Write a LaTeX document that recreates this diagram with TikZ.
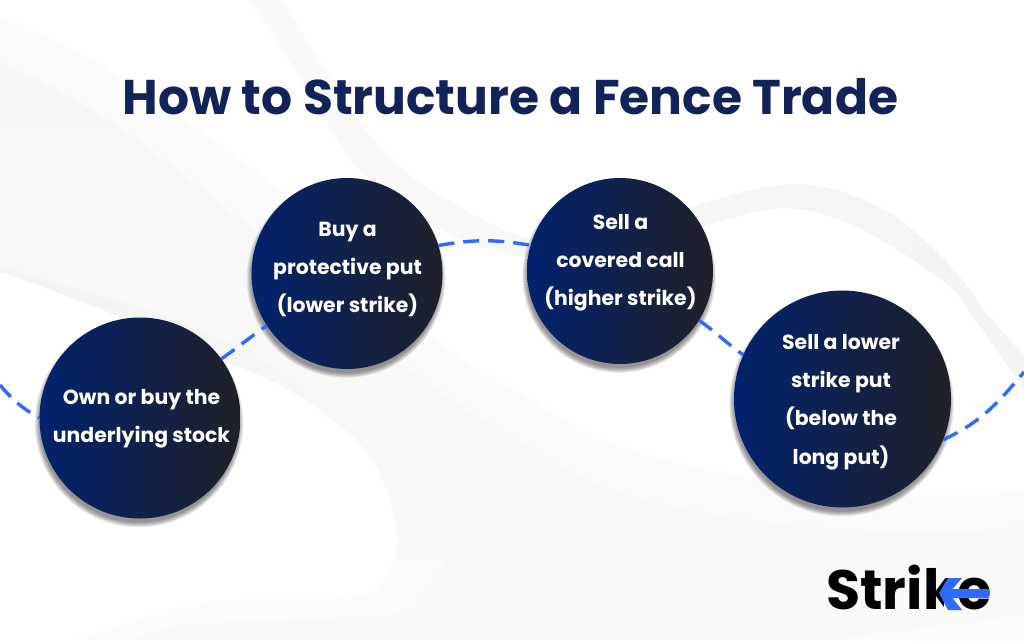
\documentclass[tikz,border=0pt]{standalone}
\usepackage{fontspec}
\setmainfont{Poppins}
\usetikzlibrary{calc}
\pgfdeclarelayer{bg}\pgfsetlayers{bg,main}
\definecolor{navy}{HTML}{12235A}
\definecolor{dashblue}{HTML}{2F6BFF}
\definecolor{circL}{HTML}{02226E}
\definecolor{circR}{HTML}{1F2028}
\colorlet{logobg}{gray!4.4}
\tikzset{
  x=1pt,y=-1pt,
  disc/.style={circle,inner sep=0pt,draw=none,left color=circL,right color=circR,shading angle=90,minimum size=#1},
  lbl/.style={text=white,font=\bfseries\fontsize{20.4}{38.2}\selectfont,align=center,inner sep=0pt},
  link/.style={draw=dashblue,line width=3.4pt,dash pattern=on 16pt off 9pt},
  ttl/.style={text=navy,font=\bfseries\fontsize{48.7}{50}\selectfont,inner sep=0pt},
}
\newcommand{\softshadow}[3]{%
  \foreach \k in {0,1,...,6}{\fill[black,opacity=0.07] (#1-1,#2+5) circle[radius=#3+\k*0.8-1];}%
}
\begin{document}
\begin{tikzpicture}
\useasboundingbox (0,0) rectangle (1024,640);
\node[disc=201pt] (c1) at (140,418) {};
\node[disc=191pt] (c2) at (347,273.5) {};
\node[disc=186pt] (c3) at (620,271) {};
\node[disc=217pt] (c4) at (842.5,399) {};
\coordinate (wl) at (0,385);
\coordinate (wr) at (1024,372);
\begin{pgfonlayer}{bg}
\fill[white] (0,0) rectangle (1024,640);
% upper swoosh + right arcs
\shade[left color=gray!2,right color=gray!9] plot[smooth,tension=.6] coordinates{(283,0)(333,83)(400,167)(512,233)(600,245)(692,207)(795,184)(879,207)(945,260)(992,320)(1024,355)} -- (1024,640) -- (0,640) -- (0,0) -- cycle;
\fill[white] plot[smooth,tension=.6] coordinates{(250,0)(283,50)(333,133)(367,177)(442,230)(527,257)(620,250)(702,227)(785,208)(862,230)(945,283)(975,320)(1024,390)} -- (1024,640) -- (0,640) -- (0,0) -- cycle;
% sweep from top-left to lower right
\fill[gray!3] plot[smooth,tension=.6] coordinates{(0,17)(100,65)(283,193)(433,337)(512,388)(612,443)(752,477)(919,495)(1024,490)} -- (1024,640) -- (0,640) -- cycle;
\shade[top color=gray!7,bottom color=gray!4] plot[smooth,tension=.6] coordinates{(0,63)(100,115)(253,230)(407,367)(512,437)(612,490)(745,520)(912,533)(1024,527)} -- (1024,640) -- (0,640) -- cycle;
% bottom-left lobe
\shade[top color=gray!9,bottom color=gray!2] plot[smooth,tension=.6] coordinates{(0,267)(167,317)(267,363)(350,420)(417,470)(443,537)(433,587)(383,615)(200,623)(133,640)} -- (0,640) -- cycle;
\fill[white] plot[smooth,tension=.6] coordinates{(0,272)(77,300)(223,360)(300,397)(367,453)(395,520)(390,570)(350,597)(200,603)(77,640)} -- (0,640) -- cycle;
\fill[gray!2] (1024,615) -- (829,640) -- (1024,640) -- cycle;
% shadows and dashed wave
\softshadow{140}{418}{100.5}
\softshadow{347}{273.5}{95.5}
\softshadow{620}{271}{93}
\softshadow{842.5}{399}{108.5}
\draw[link] (wl) to[out=-50,in=150] (c1.west);
\draw[link] (c1.36) to[out=35,in=215] (c2.213);
\draw[link] (c2.17) to[out=10,in=170] (c3.164);
\draw[link] (c3.-32) to[out=-35,in=145] (c4.156);
\draw[link] (c4.-22) to[out=25,in=-130] (wr);
\end{pgfonlayer}
\node[lbl] (t1) at (141.5,418.5) {Own or buy the\\underlying stock};
\node[lbl] (t2) at (347.5,269.5) {Buy a\\protective put\\(lower strike)};
\node[lbl] (t3) at (620.5,262.5) {Sell a\\covered call\\(higher strike)};
\node[lbl] (t4) at (841,402) {Sell a lower\\strike put\\(below the\\long put)};
\node[ttl] (title) at (510.5,97) {How to Structure a Fence Trade};
\node[text=black,font=\bfseries\fontsize{55.5}{60}\selectfont,inner sep=0pt,anchor=base west] (logo) at (826,609) {Strike};
\fill[logobg] (944,566) rectangle (961,578);
\fill[logobg] (944,598) -- (957,598) -- (964,612) -- (944,612) -- cycle;
\fill[dashblue] (948,578) -- (962,578) -- (952.5,589) -- (989,589) -- (989,598) -- (952.5,598) -- (962,610) -- (948,610) -- (939,593) -- cycle;
\end{tikzpicture}
\end{document}
